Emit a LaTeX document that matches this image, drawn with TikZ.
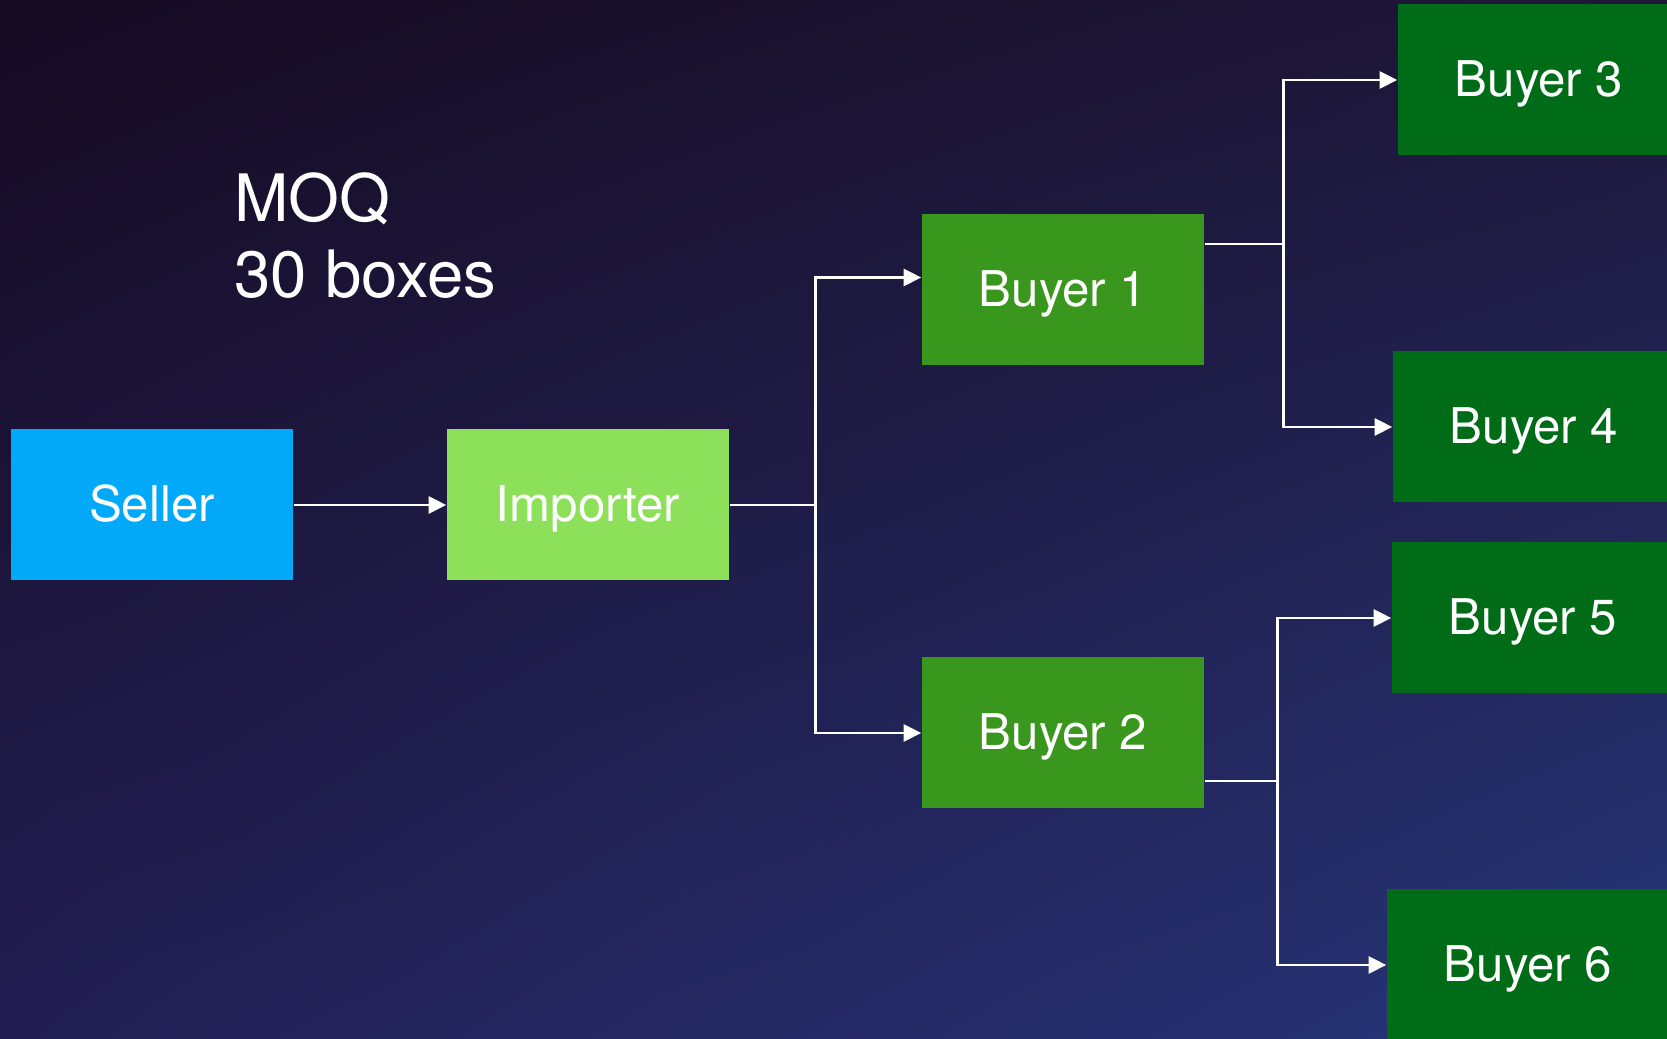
\documentclass[tikz,border=0pt]{standalone}
\usepackage{fontspec}
\setmainfont{TeX Gyre Heros}
\usetikzlibrary{arrows.meta,shadings}
\definecolor{sellerblue}{HTML}{03A9F9}
\definecolor{importgreen}{HTML}{8CE05A}
\definecolor{buyergreen}{HTML}{39971D}
\definecolor{enddarkgreen}{HTML}{006C17}
\definecolor{bgul}{HTML}{160B22}
\definecolor{bgur}{HTML}{1E1739}
\definecolor{bgll}{HTML}{221E52}
\definecolor{bglr}{HTML}{27367A}
\begin{document}
\begin{tikzpicture}[
    box/.style={minimum width=2.82cm, minimum height=1.51cm, inner sep=0pt, text=white, text height=0.96em, text depth=0.04em, font=\fontsize{14}{16}\selectfont},
    link/.style={white, line width=0.8pt},
    arrow/.style={link, -{Triangle[length=5pt,width=4.8pt]}}
  ]
        \useasboundingbox (0,0) rectangle (16.67,10.39);
        \clip (0,0) rectangle (16.67,10.39);
        \shade[upper left=bgul, upper right=bgur, lower left=bgll, lower right=bglr] (0,0) rectangle (16.67,10.39);
        \node[anchor=base west, align=left, text=white, font=\fontsize{18.6}{21.9}\selectfont] (moq) at (2.22,7.41) {MOQ\\30 boxes};
        \node[box, fill=sellerblue] (seller) at (1.52,5.34) {Seller};
        \node[box, fill=importgreen] (importer) at (5.88,5.34) {Importer};
        \node[box, fill=buyergreen] (b1) at (10.63,7.49) {Buyer 1};
        \node[box, fill=buyergreen] (b2) at (10.63,3.06) {Buyer 2};
        \node[box, fill=enddarkgreen] (b3) at (15.39,9.59) {Buyer 3};
        \node[box, fill=enddarkgreen] (b4) at (15.34,6.12) {Buyer 4};
        \node[box, fill=enddarkgreen] (b5) at (15.33,4.21) {Buyer 5};
        \node[box, fill=enddarkgreen] (b6) at (15.28,0.74) {Buyer 6};
        \draw[arrow] (seller) -- (importer);
        \draw[link] (importer.east) -- ++(0.86,0) coordinate (j1);
        \draw[arrow] (j1) |- ([yshift=1.25mm]b1.west);
        \draw[arrow] (j1) |- (b2.west);
        \draw[link] ([yshift=4.6mm]b1.east) -- ++(0.785,0) coordinate (j2);
        \draw[arrow] (j2) |- (b3.west);
        \draw[arrow] (j2) |- (b4.west);
        \draw[link] ([yshift=-4.8mm]b2.east) -- ++(0.725,0) coordinate (j3);
        \draw[arrow] (j3) |- (b5.west);
        \draw[arrow] (j3) |- (b6.west);
    \end{tikzpicture}
\end{document}
